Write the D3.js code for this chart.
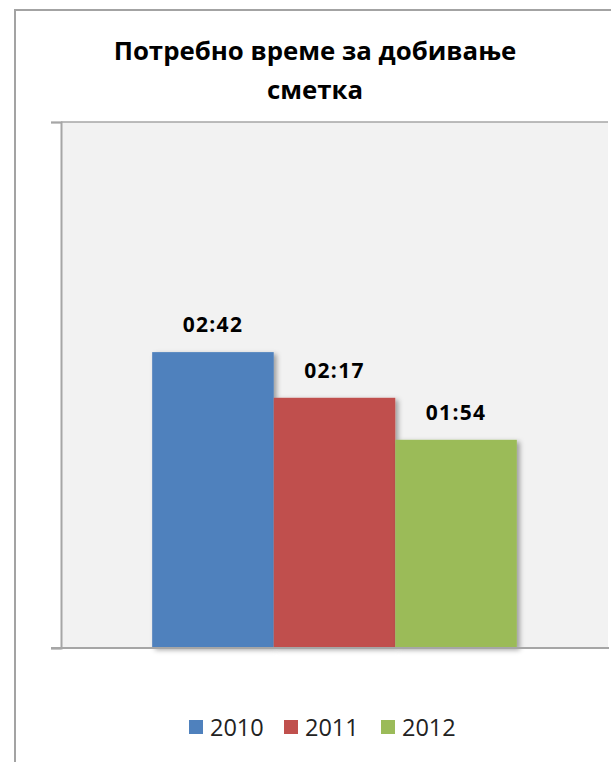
<!DOCTYPE html>
<html>
<head>
<meta charset="utf-8">
<script src="https://cdn.jsdelivr.net/npm/d3@7"></script>
<style>
  body { margin: 0; background: #fff; }
  svg { display: block; font-family: "Open Sans", sans-serif; }
</style>
</head>
<body>
<div id="chart"></div>
<script>
// data: time in minutes (axis in Excel goes to 0.2 day = 04:48)
const years = ["2010", "2011", "2012"];
const minutes = [162, 137, 114];
const labels = ["02:42", "02:17", "01:54"];
const colors = ["#4f81bd", "#c0504d", "#9bbb59"];
const axisMax = 288;

const width = 611;
const height = 762;

const plot = { left: 61, right: 608, top: 122, bottom: 648 };

const svg = d3
	.select("#chart")
	.append("svg")
	.attr("width", width)
	.attr("height", height);

// shadow for bars
const defs = svg.append("defs");
const filter = defs
	.append("filter")
	.attr("id", "shadow")
	.attr("x", "-10%")
	.attr("y", "-10%")
	.attr("width", "130%")
	.attr("height", "130%");
filter
	.append("feDropShadow")
	.attr("dx", 3)
	.attr("dy", 2)
	.attr("stdDeviation", 2.5)
	.attr("flood-color", "#000")
	.attr("flood-opacity", 0.35);

// outer chart border (runs off the right and bottom)
svg
	.append("rect")
	.attr("x", 15)
	.attr("y", 10)
	.attr("width", 620)
	.attr("height", 800)
	.attr("fill", "#fff")
	.attr("stroke", "#a3a3a3")
	.attr("stroke-width", 2);

// title
const title = svg
	.append("text")
	.attr("text-anchor", "middle")
	.style("font-weight", "bold")
	.style("font-size", "25.8px")
	.attr("fill", "#000");
title.append("tspan").attr("x", 315).attr("y", 60).text("Потребно време за добивање");
title.append("tspan").attr("x", 315).attr("y", 99).text("сметка");

// plot area
svg
	.append("rect")
	.attr("x", plot.left)
	.attr("y", plot.top)
	.attr("width", plot.right - plot.left)
	.attr("height", plot.bottom - plot.top)
	.attr("fill", "#f2f2f2");

// scales
const x0 = d3
	.scaleBand()
	.domain(["cat"])
	.range([plot.left, plot.right])
	.paddingInner(0)
	.paddingOuter(0.25);

const x1 = d3
	.scaleBand()
	.domain(years)
	.range([x0("cat"), x0("cat") + x0.bandwidth()]);

const y = d3.scaleLinear().domain([0, axisMax]).range([plot.bottom, plot.top]);

// top gridline
svg
	.append("line")
	.attr("x1", plot.left)
	.attr("x2", plot.right)
	.attr("y1", y(axisMax))
	.attr("y2", y(axisMax))
	.attr("stroke", "#a6a6a6")
	.attr("stroke-width", 1.5);

// bars
const data = years.map((yr, i) => ({ year: yr, value: minutes[i], label: labels[i], color: colors[i] }));

svg
	.append("g")
	.selectAll("rect")
	.data(data)
	.enter()
	.append("rect")
	.attr("x", (d) => x1(d.year))
	.attr("y", (d) => y(d.value))
	.attr("width", x1.bandwidth())
	.attr("height", (d) => y(0) - y(d.value))
	.attr("fill", (d) => d.color)
	.attr("filter", "url(#shadow)");

// value labels
svg
	.append("g")
	.selectAll("text")
	.data(data)
	.enter()
	.append("text")
	.attr("x", (d) => x1(d.year) + x1.bandwidth() / 2)
	.attr("y", (d) => y(d.value) - 20)
	.attr("text-anchor", "middle")
	.style("font-weight", "bold")
	.style("font-size", "21px")
	.style("letter-spacing", "1.3px")
	.attr("fill", "#000")
	.text((d) => d.label);

// y axis (no labels, ticks only at ends)
const yAxis = svg
	.append("g")
	.attr("transform", `translate(${plot.left}, 0)`)
	.call(d3.axisLeft(y).tickValues([0, axisMax]).tickSize(10).tickFormat(""));
yAxis.select(".domain").attr("stroke", "#a6a6a6").attr("stroke-width", 2);
yAxis.selectAll(".tick line").attr("stroke", "#a6a6a6").attr("stroke-width", 1.5);

// x axis baseline
svg
	.append("line")
	.attr("x1", plot.left - 10)
	.attr("x2", plot.right + 1)
	.attr("y1", y(0))
	.attr("y2", y(0))
	.attr("stroke", "#a6a6a6")
	.attr("stroke-width", 2);

// legend
const legendX = [189, 284, 381];
const legend = svg.append("g");
data.forEach((d, i) => {
	legend
		.append("rect")
		.attr("x", legendX[i])
		.attr("y", 720)
		.attr("width", 14)
		.attr("height", 14)
		.attr("fill", d.color);
	legend
		.append("text")
		.attr("x", legendX[i] + 21)
		.attr("y", 736)
		.style("font-size", "23.5px")
		.attr("fill", "#222")
		.text(d.year);
});
</script>
</body>
</html>
